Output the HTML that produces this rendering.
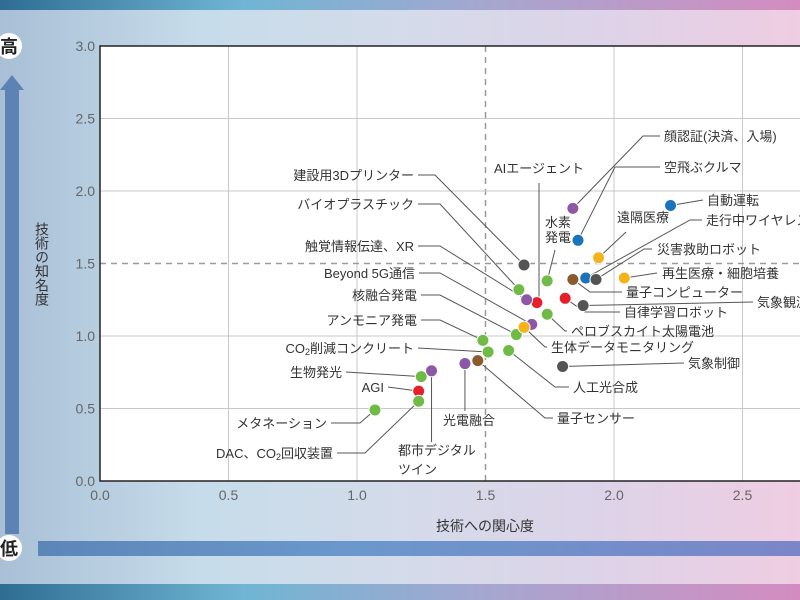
<!DOCTYPE html>
<html><head><meta charset="utf-8">
<style>
body{margin:0;width:800px;height:600px;overflow:hidden;font-family:"Liberation Sans","Noto Sans CJK JP",sans-serif;}
#bg{position:absolute;left:0;top:0;width:800px;height:600px;background:linear-gradient(90deg,#a9bfd6 0%,#c6dcea 25%,#d4dbea 50%,#ddd3e8 75%,#efcde2 100%);}
</style></head>
<body>
<div id="bg"></div>
<svg id="chart" width="800" height="600" style="position:absolute;left:0;top:0">
<defs>
<linearGradient id="band" x1="0" x2="1" y1="0" y2="0">
<stop offset="0" stop-color="#2f6d93"/><stop offset="0.3" stop-color="#6fb5d3"/><stop offset="0.6" stop-color="#a4a7d0"/><stop offset="1" stop-color="#d48cc0"/>
</linearGradient>
<linearGradient id="bar" x1="0" x2="1" y1="0" y2="0">
<stop offset="0" stop-color="#5c86b8"/><stop offset="0.4" stop-color="#6a98cc"/><stop offset="1" stop-color="#7a86c8"/>
</linearGradient>
</defs>
<rect x="0" y="0" width="800" height="10" fill="url(#band)"/>
<rect x="0" y="584" width="800" height="16" fill="url(#band)"/>
<rect x="38" y="541" width="762" height="15" fill="url(#bar)"/>
<g>
<rect x="5" y="88" width="14" height="446" fill="#5d82b4"/>
<polygon points="0,90 12,75 24,90" fill="#5d82b4"/>
</g>
<g><circle cx="9" cy="46" r="13" fill="#fff"/><text x="9" y="53" font-size="18" font-weight="bold" text-anchor="middle" fill="#222">高</text></g>
<g><circle cx="9" cy="548" r="13" fill="#fff"/><text x="9" y="555" font-size="18" font-weight="bold" text-anchor="middle" fill="#222">低</text></g>
<text x="42" y="264" font-size="14" fill="#333" style="writing-mode:vertical-rl" text-anchor="middle">技術の知名度</text>
<text x="485" y="531" font-size="14" fill="#333" text-anchor="middle">技術への関心度</text>
<rect x="100" y="46" width="710" height="435" fill="#fff"/>
<g id="grid"></g>
<g id="axes"></g>
<g id="leaders"></g>
<g id="points"></g>
<g id="labels"></g>
</svg>
<script>
const names=["顔認証(決済、入場)","空飛ぶクルマ","自動運転","遠隔医療","走行中ワイヤレス給電","災害救助ロボット","再生医療・細胞培養","量子コンピューター","気象観測","自律学習ロボット","気象制御","AIエージェント","水素発電","建設用3Dプリンター","バイオプラスチック","触覚情報伝達、XR","Beyond 5G通信","ペロブスカイト太陽電池","核融合発電","生体データモニタリング","アンモニア発電","CO2削減コンクリート","人工光合成","量子センサー","光電融合","生物発光","都市デジタルツイン","AGI","DAC、CO2回収装置","メタネーション"];
const interest=[1.84,1.86,2.22,1.94,1.89,1.93,2.04,1.84,1.88,1.81,1.80,1.70,1.74,1.65,1.63,1.66,1.68,1.74,1.62,1.65,1.49,1.51,1.59,1.47,1.42,1.25,1.29,1.24,1.24,1.07];
const awareness=[1.88,1.66,1.90,1.54,1.40,1.39,1.40,1.39,1.21,1.26,0.79,1.23,1.38,1.49,1.32,1.25,1.08,1.15,1.01,1.06,0.97,0.89,0.90,0.83,0.81,0.72,0.76,0.62,0.55,0.49];
const categories=["purple","blue","blue","yellow","blue","gray","yellow","brown","gray","red","gray","red","green","gray","green","purple","purple","green","green","yellow","green","green","green","brown","purple","green","purple","red","green","green"];
const xTicks=["0.0","0.5","1.0","1.5","2.0","2.5"];
const yTicks=["0.0","0.5","1.0","1.5","2.0","2.5","3.0"];
const palette={green:"#6fbb46",purple:"#8d57a7",blue:"#1b74ba",yellow:"#f5b31a",gray:"#545454",red:"#e5202a",brown:"#8c5a2c"};
const X=v=>100+v*257, Y=v=>481-v*145;
const NS="http://www.w3.org/2000/svg";
function mk(tag,attrs,parent){const e=document.createElementNS(NS,tag);for(const k in attrs)e.setAttribute(k,attrs[k]);parent.appendChild(e);return e;}
const grid=document.getElementById('grid'),axes=document.getElementById('axes');
xTicks.forEach(t=>{const v=+t,x=X(v);
 if(v>0){const l=mk('line',{x1:x,x2:x,y1:46,y2:481,stroke:v===1.5?'#999':'#c8c8c8','stroke-width':v===1.5?1.5:1,'stroke-dasharray':v===1.5?'6,5':'none'},grid);
 }
 const tx=mk('text',{x:x,y:500,'font-size':14,fill:'#666','text-anchor':'middle'},axes);tx.textContent=t;
 });
yTicks.forEach(t=>{const v=+t,y=Y(v);
 if(v>0&&v<3){const l=mk('line',{x1:100,x2:800,y1:y,y2:y,stroke:v===1.5?'#999':'#c8c8c8','stroke-width':v===1.5?1.5:1,'stroke-dasharray':v===1.5?'6,5':'none'},grid);
 }
 const tx=mk('text',{x:95,y:y+5,'font-size':14,fill:'#666','text-anchor':'end'},axes);tx.textContent=t;
 });
const ax=mk('path',{d:'M800,46 H100 V481 H800',fill:'none',stroke:'#222','stroke-width':1.5},axes);

// label layout: [textX, textY, anchor, elbowX, elbowY, lineStartX]
const layout=[
[664,140,'start',643,140,660],[664,171,'start',615,171,660],[707,204,'start',null,null,703],[617,221,'start',626,232,626],
[706,224,'start',690,224,702],[657,253,'start',644,253,652],[662,277,'start',null,null,657],[626,296,'start',590,296,622],
[757,306,'start',null,null,753],[624,316,'start',585,316,620],[688,367,'start',null,null,684],[539,172,'middle',539,183,539],
[545,226,'start',555,250,555],[414,179,'end',435,179,418],[414,208,'end',440,208,418],[414,250,'end',440,250,418],
[415,277,'end',440,277,419],[571,335,'start',565,335,567],[417,299,'end',440,299,421],[551,351,'start',545,351,547],
[417,324,'end',440,324,421],[414,352,'end',null,null,418],[573,391,'start',555,391,569],[557,422,'start',545,422,553],
[443,424,'start',466,411,466],[342,376,'end',null,null,346],[398,454,'start',432,442,432],[384,391,'end',null,null,388],
[333,457,'end',365,457,337],[327,427,'end',360,427,331]];
const lead=document.getElementById('leaders'),pts=document.getElementById('points'),lab=document.getElementById('labels');
names.forEach((n,i)=>{const px=X(interest[i]),py=Y(awareness[i]);const L=layout[i];
 let d;
 if(i===11){d=`M${L[3]},${L[4]} V${py}`;}
 else if(i===12||i===3){d=`M${L[3]},${L[4]} L${px},${py}`;}
 else if(i===24||i===26){d=`M${px},${py} V${L[4]}`;}
 else if(L[3]===null){d=`M${L[5]},${L[1]-4} L${px},${py}`;}
 else d=`M${L[5]},${L[1]-4} H${L[3]} L${px},${py}`;
 const p=mk('path',{d:d,fill:'none',stroke:'#555','stroke-width':1},lead);
 
 const c=mk('circle',{cx:px,cy:py,r:6,fill:palette[categories[i]],stroke:'#fff','stroke-width':1},pts);
 
 const t=mk('text',{x:L[0],y:L[1]+1,'font-size':13,fill:'#333','text-anchor':L[2]},lab);
 
 if(i===12){t.textContent='水素';const t2=mk('text',{x:L[0],y:L[1]+16,'font-size':13,fill:'#333'},lab);t2.textContent='発電';
  }
 else if(i===26){t.textContent='都市デジタル';const t2=mk('text',{x:L[0],y:L[1]+20,'font-size':13,fill:'#333'},lab);t2.textContent='ツイン';
  }
 else if(n.indexOf('CO2')>=0){const parts=n.split('CO2');t.textContent=parts[0]+'CO';const s=mk('tspan',{'font-size':9,dy:2},t);s.textContent='2';const r=mk('tspan',{dy:-2},t);r.textContent=parts[1];}
 else t.textContent=n;
});
</script>
</body></html>
